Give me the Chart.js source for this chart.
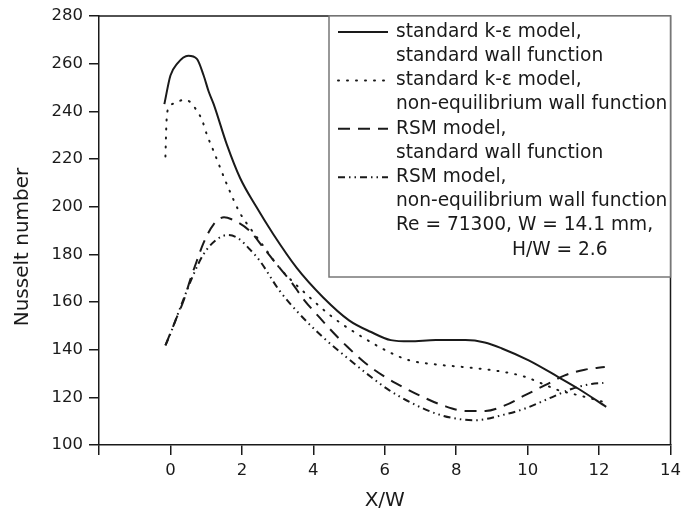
<!DOCTYPE html>
<html>
<head>
<meta charset="utf-8">
<script src="https://cdn.jsdelivr.net/npm/chart.js@4.4.1/dist/chart.umd.min.js"></script>
<style>
  html, body { margin: 0; padding: 0; background: #fff; }
  #wrap { width: 687px; height: 519px; }
</style>
</head>
<body>
<div id="wrap"><canvas id="nusselt"></canvas></div>
<script>
// X/W positions and Nusselt numbers, one pair of arrays per curve
var xKeStd = [-0.17, 0, 0.19, 0.5, 0.74, 0.93, 1.07, 1.21, 1.58, 1.95, 2.4, 2.88, 3.53, 4.27, 5.0, 5.6, 6.17, 6.7, 7.43, 8.26, 8.8, 9.28, 10.03, 10.86, 11.41, 12.2];
var yKeStd = [243, 255, 260, 263.3, 262, 255, 248.3, 243, 226, 212, 200, 188.4, 174.4, 162, 152.3, 147.5, 144, 143.5, 144, 144, 143, 140.5, 135.5, 128.5, 123.7, 116];

var xKeNeq = [-0.14, -0.11, -0.05, 0.14, 0.37, 0.56, 0.74, 0.88, 1.02, 1.21, 1.62, 1.94, 2.22, 2.5, 3.05, 3.8, 4.55, 5.38, 6.12, 6.69, 7.43, 8.35, 9.0, 9.56, 9.93, 10.4, 10.86, 11.41, 12.15];
var yKeNeq = [221, 235.7, 241.3, 243.4, 244.8, 243.8, 240.2, 236.5, 230.2, 223.2, 207.9, 197.5, 191.2, 185.6, 174.4, 163.3, 153.5, 145.2, 139, 135.5, 133.8, 132.5, 131.4, 130, 128.6, 125.8, 123, 120.9, 118];

var xRsmStd = [-0.14, 0.14, 0.37, 0.56, 0.74, 0.93, 1.21, 1.5, 1.71, 2.22, 2.6, 2.97, 3.39, 3.75, 4.12, 4.55, 4.96, 5.42, 5.94, 6.5, 7.06, 7.61, 8.26, 8.82, 9.38, 9.93, 10.49, 11.04, 11.6, 12.16];
var yRsmStd = [141.8, 152.2, 160.6, 169.6, 177.3, 184.9, 192.6, 195.5, 194.7, 189.8, 182.8, 175.9, 168.2, 160.7, 154.4, 147.3, 141.1, 134.8, 129.2, 124.4, 120.2, 116.7, 114.3, 114.3, 116.7, 120.9, 125.1, 129.2, 131.6, 132.7];

var xRsmNeq = [-0.14, 0, 0.28, 0.65, 0.93, 1.3, 1.61, 1.9, 2.22, 2.5, 3.05, 3.61, 4.27, 4.92, 5.56, 6.12, 6.78, 7.43, 7.98, 8.54, 9.28, 9.93, 10.58, 11.23, 11.79, 12.12];
var yRsmNeq = [141.8, 146.7, 157.8, 171.7, 180.1, 186.3, 188.1, 186.7, 182.1, 177.3, 164.8, 155, 145.2, 136.9, 129.2, 123, 117.4, 113.2, 111.1, 110.4, 112.5, 115.3, 119.4, 123.5, 125.6, 126];

var seriesLabels = [
    ["standard k-\u03b5 model,", "standard wall function"],
    ["standard k-\u03b5 model,", "non-equilibrium wall function"],
    ["RSM model,", "standard wall function"],
    ["RSM model,", "non-equilibrium wall function"]
];
var noteLines = ["Re = 71300, W = 14.1 mm,", "H/W = 2.6"];
var dashes = [[], [1, 8], [12, 8], [7, 4, 1.5, 4, 1.5, 4]];

var xTicks = [-2, 0, 2, 4, 6, 8, 10, 12, 14];
var yTicks = [100, 120, 140, 160, 180, 200, 220, 240, 260, 280];

var FONT = '"DejaVu Sans", sans-serif';
var INK = '#1a1a1a';

function pairs(xs, ys) {
    return xs.map(function (x, i) { return {x: x, y: ys[i]}; });
}

var curves = [[xKeStd, yKeStd], [xKeNeq, yKeNeq], [xRsmStd, yRsmStd], [xRsmNeq, yRsmNeq]];
var datasets = curves.map(function (c, i) {
    return {
        label: seriesLabels[i].join(' '),
        data: pairs(c[0], c[1]),
        borderColor: INK,
        borderWidth: 2,
        borderDash: dashes[i],
        borderCapStyle: i == 1 ? 'round' : 'butt',
        pointRadius: 0,
        fill: false,
        cubicInterpolationMode: 'monotone'
    };
});

// frame top/right, rotated y title and the boxed legend
var frameAndLegend = {
    id: 'frameAndLegend',
    afterDraw: function (chart) {
        var ctx = chart.ctx, a = chart.chartArea;
        ctx.save();
        ctx.strokeStyle = INK;
        ctx.lineWidth = 1.5;
        ctx.beginPath();
        ctx.moveTo(a.left, a.top);
        ctx.lineTo(a.right, a.top);
        ctx.lineTo(a.right, a.bottom);
        ctx.stroke();

        ctx.fillStyle = INK;
        ctx.font = '20px ' + FONT;
        ctx.textAlign = 'center';
        ctx.textBaseline = 'middle';
        ctx.save();
        ctx.translate(23, 247);
        ctx.rotate(-Math.PI / 2);
        ctx.fillText('Nusselt number', 0, 0);
        ctx.restore();

        var left = 329, bottom = 277, top = a.top, right = a.right;
        ctx.fillStyle = '#fff';
        ctx.fillRect(left, top, right - left, bottom - top);
        ctx.strokeStyle = '#777';
        ctx.lineWidth = 1.5;
        ctx.strokeRect(left, top, right - left, bottom - top);

        ctx.font = '18.6px ' + FONT;
        ctx.textAlign = 'left';
        ctx.fillStyle = INK;
        var y = 32, step = 24.2;
        seriesLabels.forEach(function (lines, i) {
            ctx.strokeStyle = INK;
            ctx.lineWidth = 2;
            ctx.lineCap = i == 1 ? 'round' : 'butt';
            ctx.setLineDash(dashes[i]);
            ctx.beginPath();
            ctx.moveTo(338, y);
            ctx.lineTo(388, y);
            ctx.stroke();
            ctx.setLineDash([]);
            lines.forEach(function (t) {
                ctx.fillText(t, 396, y);
                y += step;
            });
        });
        ctx.fillText(noteLines[0], 396, y);
        ctx.fillText(noteLines[1], 512, y + step);
        ctx.restore();
    }
};

new Chart(document.getElementById('nusselt'), {
    type: 'line',
    data: {datasets: datasets},
    plugins: [frameAndLegend],
    options: {
        responsive: true,
        maintainAspectRatio: false,
        animation: false,
        layout: {padding: {top: 14, right: 14, left: 0, bottom: 0}},
        plugins: {legend: {display: false}, tooltip: {enabled: false}},
        scales: {
            x: {
                type: 'linear',
                min: -2,
                max: 14,
                afterFit: function (s) { s.height = 74; },
                afterBuildTicks: function (s) { s.ticks = xTicks.map(function (v) { return {value: v}; }); },
                ticks: {
                    padding: 6,
                    color: INK,
                    font: {family: FONT, size: 16.5},
                    callback: function (v) { return v < 0 ? '' : v; }
                },
                grid: {drawOnChartArea: false, tickLength: 10, color: INK, lineWidth: 1.5},
                border: {color: INK, width: 1.5},
                title: {display: true, text: 'X/W', color: INK, font: {family: FONT, size: 20}, padding: {top: 0, bottom: 6}}
            },
            y: {
                min: 100,
                max: 280,
                afterFit: function (s) { s.width = 99; },
                afterBuildTicks: function (s) { s.ticks = yTicks.map(function (v) { return {value: v}; }); },
                ticks: {padding: 6, color: INK, font: {family: FONT, size: 16.5}},
                grid: {drawOnChartArea: false, tickLength: 10, color: INK, lineWidth: 1.5},
                border: {color: INK, width: 1.5}
            }
        }
    }
});
</script>
</body>
</html>
